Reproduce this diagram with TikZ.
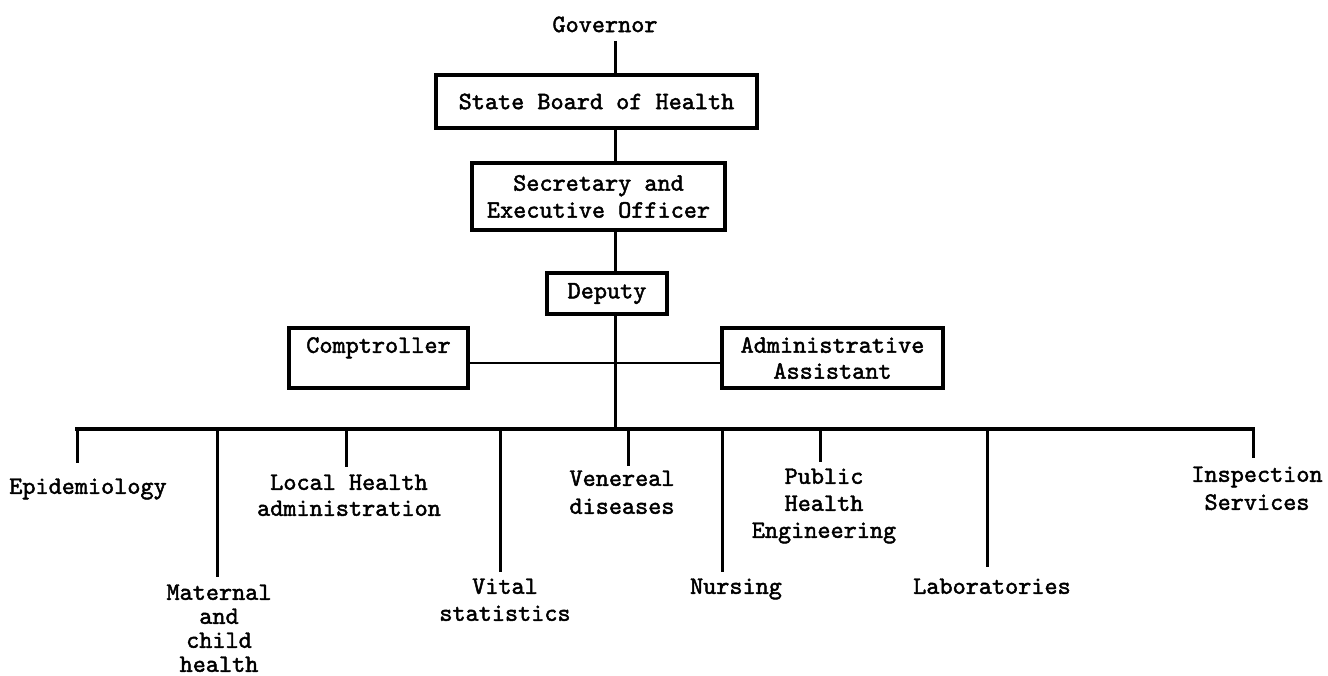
\documentclass[tikz,border=0pt]{standalone}
\usepackage{fontspec}
\newfontfamily\twfont{lmmono10-regular.otf}[FakeBold=1.8]
\usetikzlibrary{calc}
\begin{document}
\begin{tikzpicture}[x=1pt,y=-1pt, line width=3pt,
  txt/.style={font=\fontsize{25}{26}\selectfont\twfont, inner sep=0pt, align=center},
  box/.style={txt, draw, line width=3.2pt},
  lbl/.style={txt, anchor=north},
  dropline/.style={line width=3pt}]
\useasboundingbox (0,0) rectangle (1328,675);

% top chain
\node (gov) [lbl] at (605,15) {Governor};
\node (sbh) [box, minimum width=321pt, minimum height=53pt] at (596.5,101.5) {State Board of Health};
\node (sec) [box, minimum width=253pt, minimum height=67pt, font=\fontsize{25}{27}\selectfont\twfont] at (598.5,196.5) {Secretary and\\Executive Officer};
\node (dep) [box, minimum width=120pt, minimum height=41pt] at (607,293.5) {Deputy};
\node (comp) [box, minimum width=179pt, minimum height=60pt] at (378.5,358) {Comptroller\\~};
\node (adm) [box, minimum width=221pt, minimum height=60pt] at (832.5,358) {Administrative\\Assistant};

% bus coordinates
\coordinate (spine) at (615,429);
\coordinate (b1) at (77,429);
\coordinate (b2) at (217,429);
\coordinate (b3) at (346,429);
\coordinate (b4) at (500,429);
\coordinate (b5) at (628,429);
\coordinate (b6) at (722,429);
\coordinate (b7) at (820,429);
\coordinate (b8) at (987,429);
\coordinate (b9) at (1253,429);

% children
\node (epi) [lbl] at (88,477) {Epidemiology};
\node (mat) [lbl, font=\fontsize{25}{24}\selectfont\twfont] at (219,583) {Maternal\\and\\child\\health};
\node (loc) [lbl] at (349,473) {Local Health\\administration};
\node (vit) [lbl, font=\fontsize{25}{27}\selectfont\twfont] at (505,577) {Vital\\statistics};
\node (ven) [lbl, font=\fontsize{25}{28}\selectfont\twfont] at (622,469) {Venereal\\diseases};
\node (nur) [lbl] at (736,577) {Nursing};
\node (pub) [lbl, font=\fontsize{25}{27}\selectfont\twfont] at (824,467) {Public\\Health\\Engineering};
\node (lab) [lbl] at (992,577) {Laboratories};
\node (ins) [lbl, font=\fontsize{25}{28}\selectfont\twfont] at (1257,465) {Inspection\\Services};

% connectors
\draw[shorten <=7pt] (gov.south -| spine) -- (sbh.north -| spine);
\draw (sbh.south -| spine) -- (sec.north -| spine);
\draw (sec.south -| spine) -- (dep.north -| spine);
\draw (dep.south -| spine) -- (spine);
\draw[line width=2.5pt] ([yshift=-5pt]comp.east) -- ([yshift=-5pt]adm.west);
\draw[line width=3.5pt, line cap=rect] (b1) -- (b9);

\draw[dropline, shorten >=14pt] (b1) -- (b1 |- epi.north);
\draw[dropline, shorten >=6pt] (b2) -- (b2 |- mat.north);
\draw[dropline, shorten >=6pt] (b3) -- (b3 |- loc.north);
\draw[dropline, shorten >=5pt] (b4) -- (b4 |- vit.north);
\draw[dropline, shorten >=3pt] (b5) -- (b5 |- ven.north);
\draw[dropline, shorten >=5pt] (b6) -- (b6 |- nur.north);
\draw[dropline, shorten >=5pt] (b7) -- (b7 |- pub.north);
\draw[dropline, shorten >=10pt] (b8) -- (b8 |- lab.north);
\draw[dropline, shorten >=7pt] (b9) -- (b9 |- ins.north);
\end{tikzpicture}
\end{document}
